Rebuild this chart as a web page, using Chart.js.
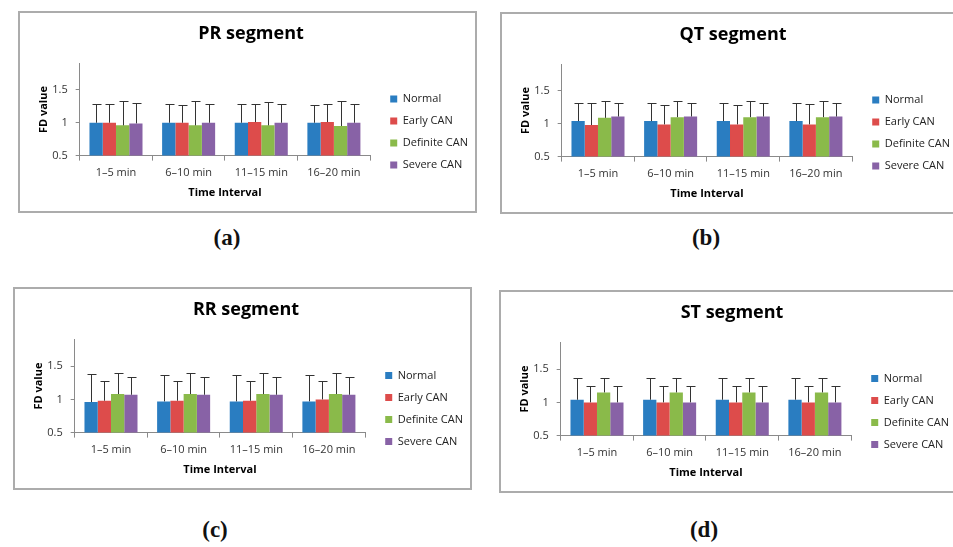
<!DOCTYPE html>
<html>
<head>
<meta charset="utf-8">
<script src="https://cdn.jsdelivr.net/npm/chart.js@4.4.0/dist/chart.umd.min.js"></script>
<style>
  body { margin: 0; width: 953px; height: 547px; overflow: hidden; background: #fff; position: relative; }
  .panel { position: absolute; border: 2px solid #acacac; box-sizing: border-box; background: #fff; }
  .panel canvas { display: block; }
  .cap { position: absolute; font-family: 'Liberation Serif', serif; font-weight: bold; font-size: 23px; color: #111; transform: translate(-50%, -50%); }
</style>
</head>
<body>
<div class="panel" style="left:18px; top:11px; width:459px; height:202px;"><canvas id="prChart" width="455" height="198"></canvas></div>
<div class="panel" style="left:500px; top:12px; width:459px; height:202px;"><canvas id="qtChart" width="455" height="198"></canvas></div>
<div class="panel" style="left:13px; top:287px; width:459px; height:203px;"><canvas id="rrChart" width="455" height="199"></canvas></div>
<div class="panel" style="left:499px; top:290px; width:459px; height:203px;"><canvas id="stChart" width="455" height="199"></canvas></div>
<div class="cap" style="left:227px; top:238px;">(a)</div>
<div class="cap" style="left:706px; top:238px;">(b)</div>
<div class="cap" style="left:215px; top:530px;">(c)</div>
<div class="cap" style="left:704px; top:530px;">(d)</div>
<script>
Chart.defaults.font.family = 'Open Sans';

// categories and groups
const categories = ['1–5 min', '6–10 min', '11–15 min', '16–20 min'];
const groups = ['Normal', 'Early CAN', 'Definite CAN', 'Severe CAN'];
const colors = ['#2a7dc1', '#dd4c4b', '#8aba4a', '#8862a6'];
const yTicks = [0.5, 1, 1.5];

// means per group (Normal, Early, Definite, Severe) and plus error (SD)
const prMeans  = [[1.00, 1.00, 1.00, 1.00], [1.00, 1.00, 1.01, 1.01], [0.96, 0.96, 0.96, 0.95], [0.99, 1.00, 1.00, 1.00]];
const prErrors = [[0.28, 0.28, 0.28, 0.27], [0.28, 0.27, 0.28, 0.27], [0.37, 0.37, 0.36, 0.38], [0.31, 0.29, 0.28, 0.28]];

const qtMeans  = [[1.04, 1.04, 1.04, 1.04], [0.98, 0.99, 0.99, 0.99], [1.09, 1.10, 1.10, 1.10], [1.11, 1.11, 1.11, 1.11]];
const qtErrors = [[0.28, 0.28, 0.28, 0.28], [0.33, 0.30, 0.30, 0.31], [0.26, 0.25, 0.25, 0.25], [0.21, 0.21, 0.21, 0.21]];

const rrMeans  = [[0.96, 0.97, 0.97, 0.97], [0.98, 0.98, 0.98, 1.00], [1.08, 1.08, 1.08, 1.08], [1.07, 1.07, 1.07, 1.07]];
const rrErrors = [[0.42, 0.40, 0.39, 0.39], [0.30, 0.30, 0.30, 0.28], [0.31, 0.31, 0.31, 0.31], [0.27, 0.27, 0.27, 0.27]];

const stMeans  = [[1.04, 1.04, 1.04, 1.04], [1.00, 1.00, 1.00, 1.00], [1.15, 1.15, 1.15, 1.15], [1.00, 1.00, 1.00, 1.00]];
const stErrors = [[0.33, 0.33, 0.33, 0.33], [0.24, 0.24, 0.24, 0.24], [0.22, 0.22, 0.22, 0.22], [0.24, 0.24, 0.24, 0.24]];

// plus-only error bars, drawn from the bar top through the y scale
const errorBars = {
    id: 'errorBars',
    afterDatasetsDraw(chart) {
        const ctx = chart.ctx;
        const yScale = chart.scales.y;
        ctx.save();
        ctx.strokeStyle = '#333';
        ctx.lineWidth = 1;
        chart.data.datasets.forEach((ds, i) => {
            const meta = chart.getDatasetMeta(i);
            meta.data.forEach((bar, j) => {
                const top = Math.round(yScale.getPixelForValue(ds.data[j] + ds.errorPlus[j])) + 0.5;
                const x = Math.round(bar.x) + 0.5;
                const y0 = yScale.getPixelForValue(ds.data[j]);
                ctx.beginPath();
                ctx.moveTo(x, y0);
                ctx.lineTo(x, top);
                ctx.moveTo(x - 4, top);
                ctx.lineTo(x + 5, top);
                ctx.stroke();
            });
        });
        ctx.restore();
    }
};

// Excel leaves a gap before the legend and sits it lower than the plot centre
const legendShift = {
    id: 'legendShift',
    afterLayout(chart) {
        const lg = chart.legend;
        lg.left += 9; lg.right += 9;
        lg.top += 24; lg.bottom += 24;
    }
};

function makeChart(id, title, means, errors) {
    return new Chart(document.getElementById(id), {
        type: 'bar',
        data: {
            labels: categories,
            datasets: groups.map((g, i) => ({
                label: g,
                data: means[i],
                errorPlus: errors[i],
                backgroundColor: colors[i],
                borderWidth: 0,
                categoryPercentage: 0.73,
                barPercentage: 1.0
            }))
        },
        options: {
            responsive: false,
            animation: false,
            layout: { padding: { left: 13, right: 6, top: 0, bottom: 8 } },
            plugins: {
                title: {
                    display: true, text: title, color: '#000',
                    font: { size: 18, weight: 'bold' },
                    padding: { top: 10, bottom: 19 }
                },
                legend: {
                    position: 'right',
                    labels: { boxWidth: 7, boxHeight: 7, padding: 11, color: '#222', font: { size: 11 } }
                },
                tooltip: { enabled: false }
            },
            scales: {
                x: {
                    grid: { drawOnChartArea: false, tickLength: 5, color: '#8a8a8a' },
                    border: { color: '#8a8a8a' },
                    ticks: { color: '#333', padding: 6, font: { size: 11 } },
                    title: { display: true, text: 'Time Interval', color: '#000', font: { size: 11, weight: 'bold' }, padding: { top: 0, bottom: 4 } }
                },
                y: {
                    min: 0.5, max: 1.9,
                    afterBuildTicks: s => { s.ticks = yTicks.map(v => ({ value: v })); },
                    grid: { drawOnChartArea: false, tickLength: 4, color: '#8a8a8a' },
                    border: { color: '#8a8a8a' },
                    ticks: { color: '#333', padding: 8, font: { size: 11 }, callback: v => String(Math.round(v * 10) / 10) },
                    title: { display: true, text: 'FD value', color: '#000', font: { size: 11, weight: 'bold' }, padding: { top: 4, bottom: -6 } }
                }
            }
        },
        plugins: [errorBars, legendShift]
    });
}

makeChart('prChart', 'PR segment', prMeans, prErrors);
makeChart('qtChart', 'QT segment', qtMeans, qtErrors);
makeChart('rrChart', 'RR segment', rrMeans, rrErrors);
makeChart('stChart', 'ST segment', stMeans, stErrors);
</script>
</body>
</html>
